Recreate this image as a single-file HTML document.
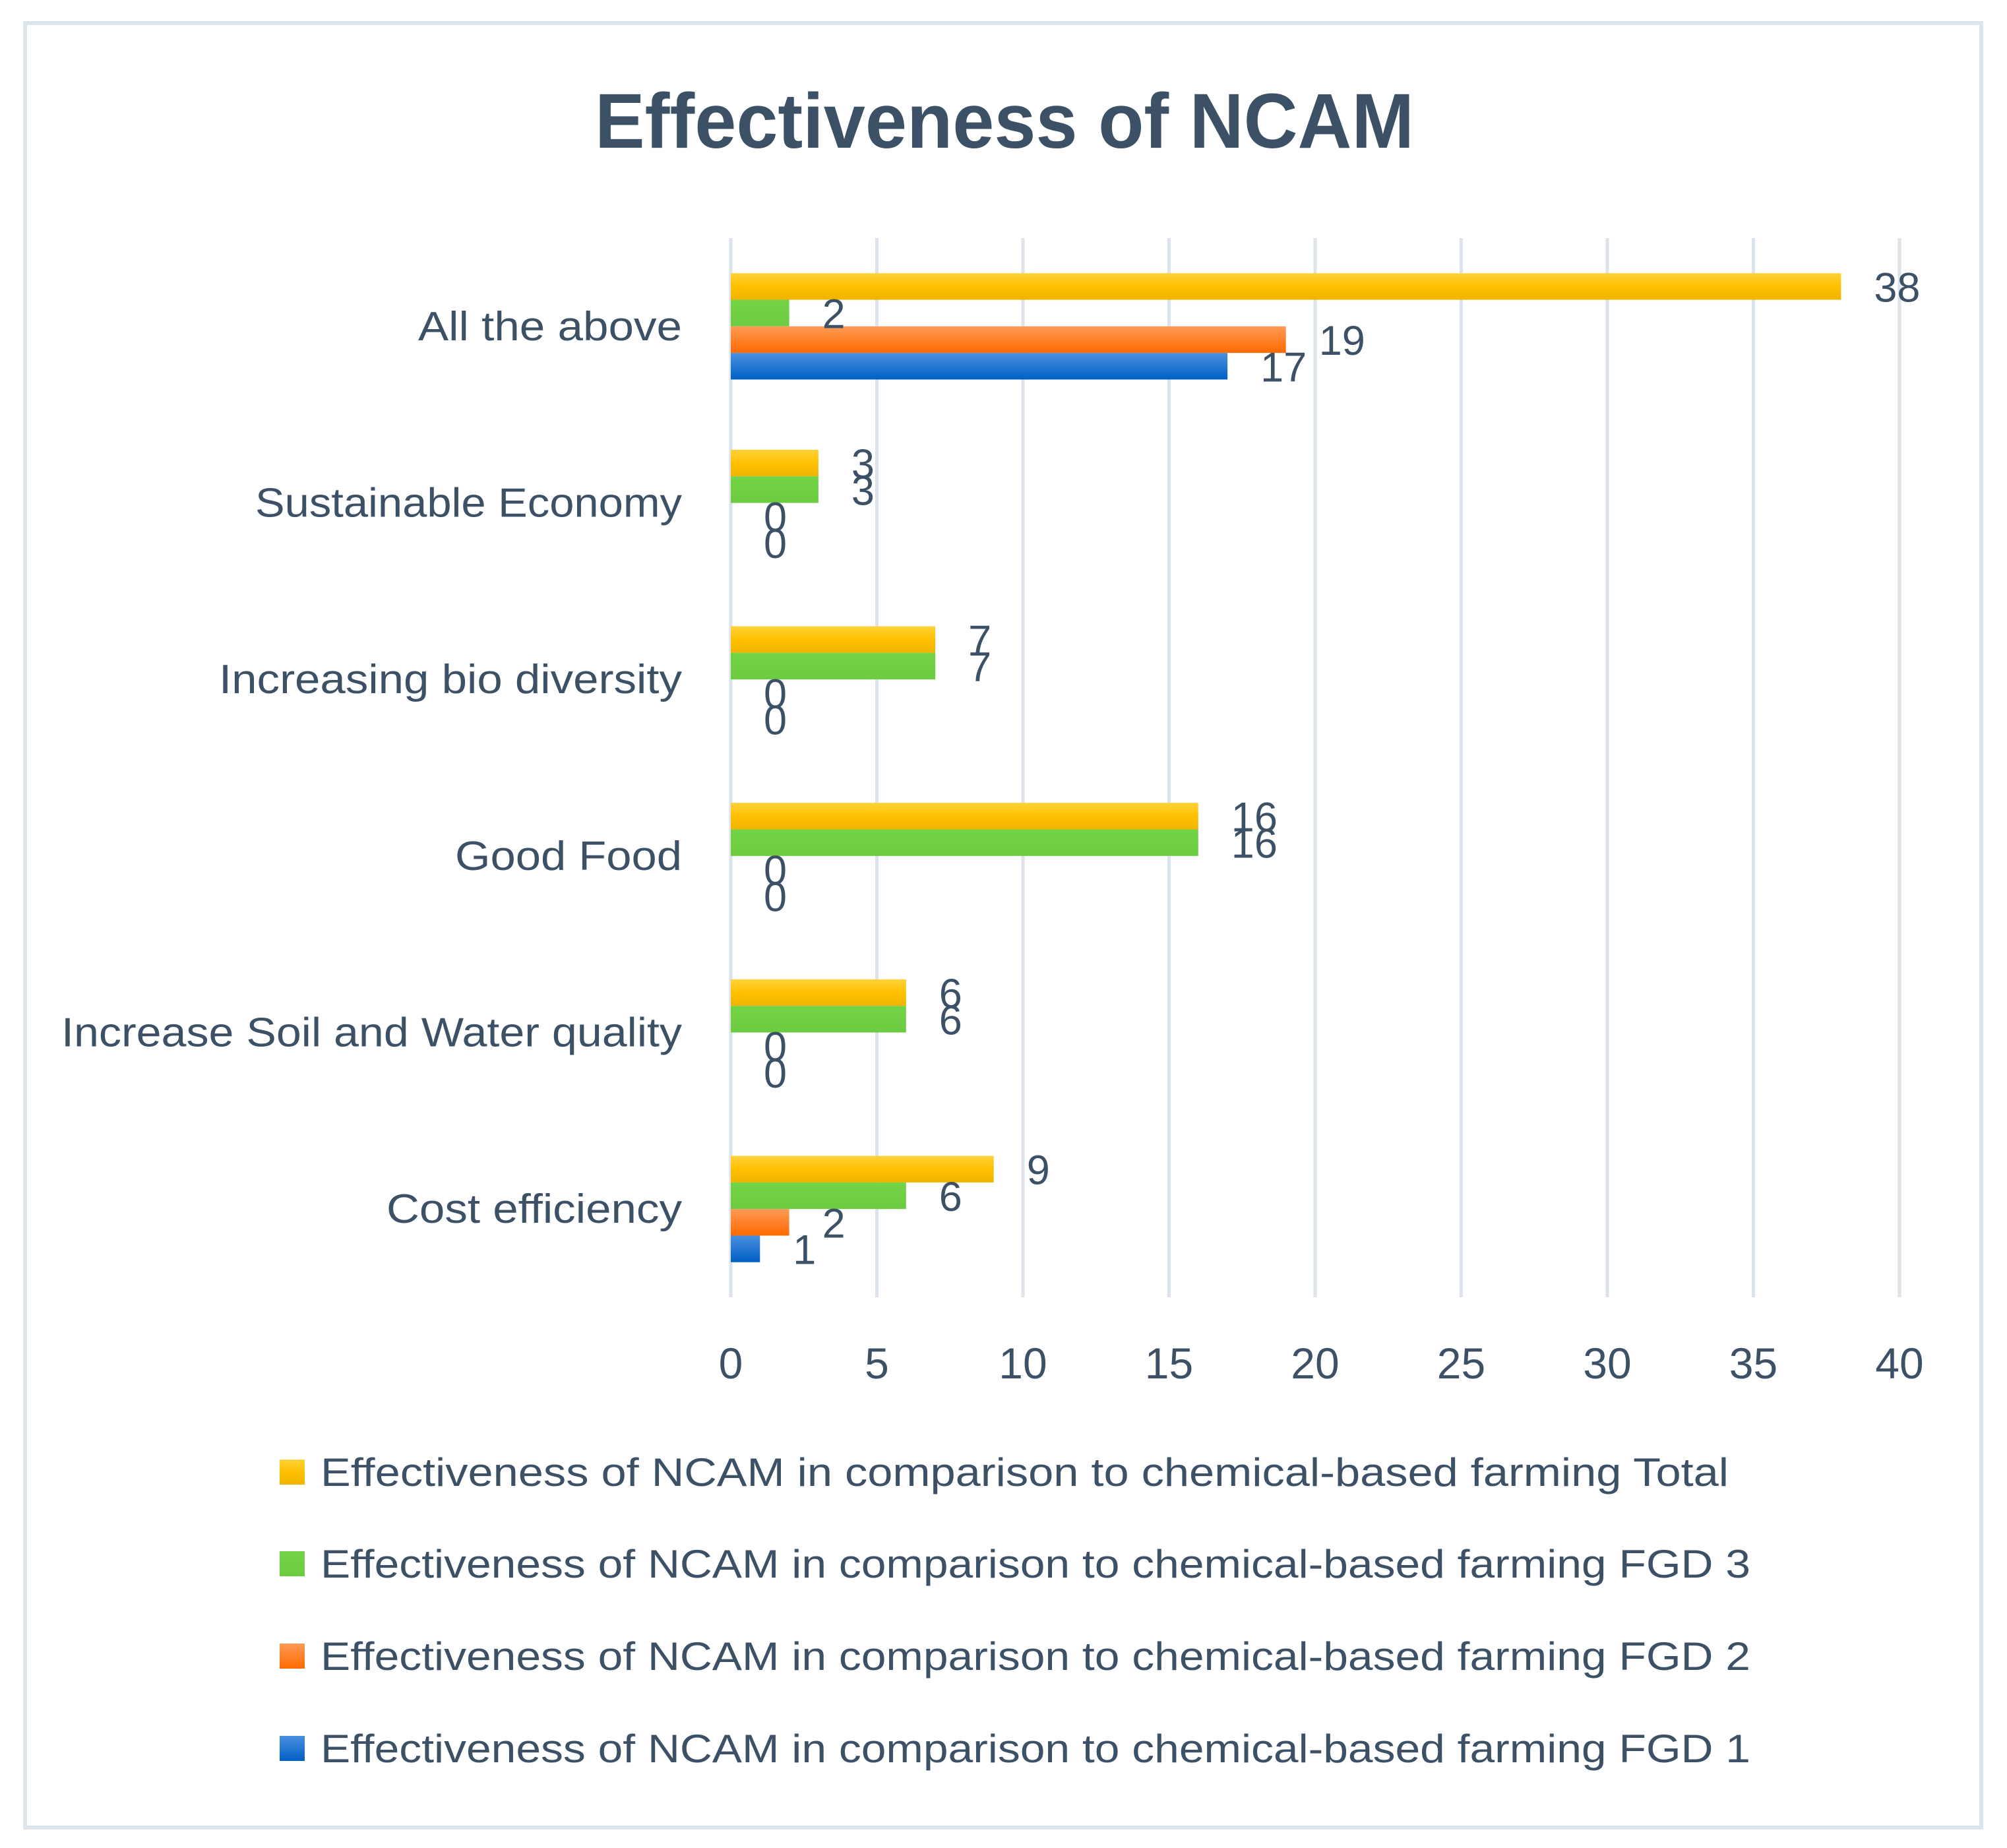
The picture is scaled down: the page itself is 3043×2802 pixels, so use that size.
<!DOCTYPE html>
<html><head><meta charset="utf-8"><style>
html,body{margin:0;padding:0;background:#fff;}
svg{display:block;font-family:"Liberation Sans",sans-serif;}
</style></head><body>
<svg id="chart" width="3043" height="2802" viewBox="0 0 3043 2802">
<defs>
<linearGradient id="gY" x1="0" y1="0" x2="0" y2="1"><stop offset="0" stop-color="#FFD23A"/><stop offset="0.5" stop-color="#FFC000"/><stop offset="1" stop-color="#F0B400"/></linearGradient>
<linearGradient id="gG" x1="0" y1="0" x2="0" y2="1"><stop offset="0" stop-color="#74D448"/><stop offset="1" stop-color="#6CCB40"/></linearGradient>
<linearGradient id="gO" x1="0" y1="0" x2="0" y2="1"><stop offset="0" stop-color="#FF9A55"/><stop offset="1" stop-color="#FF6A00"/></linearGradient>
<linearGradient id="gB" x1="0" y1="0" x2="0" y2="1"><stop offset="0" stop-color="#4A90E0"/><stop offset="1" stop-color="#0060C4"/></linearGradient>
</defs>
<rect x="38" y="35" width="2966" height="2736" fill="#fff" stroke="#DDE5EC" stroke-width="6"/>
<text x="1523" y="224" text-anchor="middle" font-size="118" font-weight="bold" fill="#3D5166" textLength="1242" lengthAdjust="spacingAndGlyphs">Effectiveness of NCAM</text>
<g id="grid"></g><g id="bars"></g><g id="labels"></g><g id="legend"></g>
</svg>
<script>
const categories = ["Cost efficiency","Increase Soil and Water quality","Good Food","Increasing bio diversity","Sustainable Economy","All the above"];
const catWidths = [448,941,344,702,647,400];
const seriesNames = ["Effectiveness of NCAM in comparison to chemical-based farming Total","Effectiveness of NCAM in comparison to chemical-based farming FGD 3","Effectiveness of NCAM in comparison to chemical-based farming FGD 2","Effectiveness of NCAM in comparison to chemical-based farming FGD 1"];
const totalVals = [9,6,16,7,3,38];
const fgd3Vals = [6,6,16,7,3,2];
const fgd2Vals = [2,0,0,0,0,19];
const fgd1Vals = [1,0,0,0,0,17];
const ticks = [0,5,10,15,20,25,30,35,40];

const NS="http://www.w3.org/2000/svg";
const X0=1108, X1=2880, YT=361, YB=1967, VMAX=40;
const xs=v=>X0+(v/VMAX)*(X1-X0);
const band=(YB-YT)/categories.length;
const catTop=i=>YT+(categories.length-1-i)*band;
const BH=40.3;
const series=[totalVals,fgd3Vals,fgd2Vals,fgd1Vals];
const fills=["url(#gY)","url(#gG)","url(#gO)","url(#gB)"];
const keys=["total","fgd3","fgd2","fgd1"];
const TXT="#3D5166";
function mk(tag,attrs,parent){const e=document.createElementNS(NS,tag);for(const k in attrs)e.setAttribute(k,attrs[k]);parent.appendChild(e);return e;}
const grid=document.getElementById('grid'),bars=document.getElementById('bars'),labels=document.getElementById('labels'),legend=document.getElementById('legend');
ticks.forEach(t=>{
  const l=mk('line',{x1:xs(t),x2:xs(t),y1:YT,y2:YB,stroke:"#DCE3EA","stroke-width":5},grid);
  
  
  const tx=mk('text',{x:xs(t),y:2090,"text-anchor":"middle","font-size":66,fill:TXT},grid);
  tx.textContent=t;
  
  
});
categories.forEach((c,i)=>{
  const top=catTop(i), cy=top+band/2;
  const tx=mk('text',{x:1034,y:cy+21,"text-anchor":"end","font-size":62,fill:TXT,textLength:catWidths[i],lengthAdjust:"spacingAndGlyphs"},labels);
  tx.textContent=c;
  
  
  const y0=cy-2*BH;
  series.forEach((s,k)=>{
    const v=s[i], y=y0+k*BH;
    if(v>0){
      const r=mk('rect',{x:X0,y:y,width:xs(v)-X0,height:BH,fill:fills[k]},bars);
      
      
    }
    const lt=mk('text',{x:xs(v)+50,y:y+BH/2+23,"font-size":63,fill:TXT},labels);
    lt.textContent=v;
    
    
  });
});
const legY=[2232,2371,2511,2651];
seriesNames.forEach((n,k)=>{
  const r=mk('rect',{x:424,y:legY[k]-19,width:38,height:38,fill:fills[k]},legend);
  
  
  const t=mk('text',{x:486,y:legY[k]+21,"font-size":60,fill:TXT,textLength:(k==0?2135:2168),lengthAdjust:"spacingAndGlyphs"},legend);
  t.textContent=n;
  
  
});
</script>
</body></html>
